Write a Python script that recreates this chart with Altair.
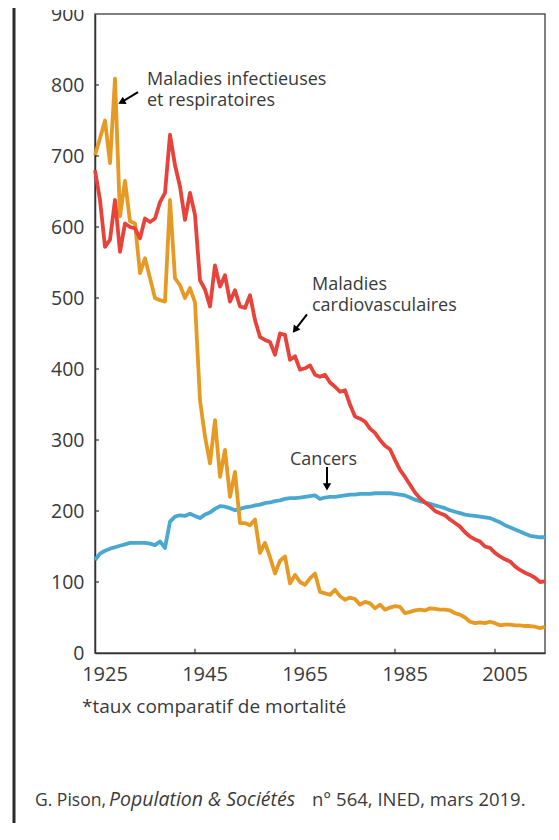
import altair as alt
import pandas as pd

years = list(range(1925, 2016))

infectieuses = [701, 725, 750, 690, 809, 615, 665, 608, 605, 535,
                556, 528, 500, 497, 495, 638, 528, 518, 500, 514,
                494, 356, 305, 267, 328, 248, 286, 220, 255, 183,
                183, 180, 188, 141, 155, 135, 112, 130, 136, 98,
                110, 100, 96, 105, 112, 86, 84, 82, 89, 80,
                75, 78, 76, 68, 72, 70, 63, 68, 61, 64,
                66, 65, 56, 58, 60, 61, 60, 63, 62, 61,
                61, 60, 56, 54, 50, 44, 42, 43, 42, 44,
                42, 39, 40, 40, 39, 39, 38, 38, 37, 35, 37]

cardio = [680, 638, 572, 582, 638, 565, 605, 600, 598, 584,
          612, 607, 612, 635, 648, 730, 687, 657, 610, 648,
          617, 525, 512, 488, 546, 516, 532, 495, 511, 488,
          486, 504, 469, 445, 441, 438, 420, 450, 448, 413,
          418, 399, 401, 405, 392, 389, 392, 381, 375, 368,
          370, 350, 333, 330, 326, 316, 310, 300, 292, 287,
          272, 258, 248, 237, 226, 218, 212, 207, 200, 197,
          194, 188, 183, 178, 170, 164, 160, 157, 150, 148,
          141, 136, 132, 129, 122, 117, 113, 110, 106, 100, 101]

cancers = [131, 140, 144, 147, 149, 151, 153, 155, 155, 155,
           155, 154, 152, 157, 148, 185, 192, 194, 193, 196,
           193, 190, 195, 198, 203, 207, 206, 204, 201, 203,
           205, 206, 208, 209, 211, 212, 214, 215, 217, 218,
           218, 219, 220, 221, 222, 217, 219, 220, 220, 221,
           222, 223, 223, 224, 224, 224, 225, 225, 225, 225,
           224, 223, 222, 219, 216, 214, 212, 210, 208, 206,
           204, 201, 199, 197, 195, 194, 193, 192, 191, 190,
           187, 184, 180, 177, 174, 171, 168, 165, 164, 163, 163]

x_tick_values = [1925, 1945, 1965, 1985, 2005]
x_tick_labels = ["1925", "1945", "1965", "1985", "2005"]
y_tick_values = [0, 100, 200, 300, 400, 500, 600, 700, 800, 900]

# annotation texts (data coordinates)
ann_text = ["Maladies  infectieuses", "et respiratoires", "Maladies",
            "cardiovasculaires", "Cancers"]
ann_year = [1935.4, 1935.4, 1968.4, 1968.4, 1964.0]
ann_value = [800, 771, 511, 482, 265]

# arrows (tail -> head, data coordinates)
arr_x = [1933.6, 1967.4, 1971.4]
arr_y = [790, 477, 262]
arr_x2 = [1930.3, 1965.0, 1971.4]
arr_y2 = [776, 455, 234]
arr_angle = [243, 217, 180]

ORANGE = "#E69A24"
RED = "#E8433A"
BLUE = "#48A8CF"
TXT = "#3a3a3a"
FONT = "Open Sans"

W, H = 450, 639

df = pd.DataFrame({"year": years, "inf": infectieuses, "car": cardio, "can": cancers})
ann = pd.DataFrame({"t": ann_text, "year": ann_year, "value": ann_value})
arr = pd.DataFrame({"x": arr_x, "y": arr_y, "x2": arr_x2, "y2": arr_y2, "a": arr_angle})
xt = pd.DataFrame({"year": x_tick_values[1:], "v0": 0, "v1": 6})
yt = pd.DataFrame({"value": y_tick_values[1:-1], "x0": 1925, "x1": 1925.8})
xl = pd.DataFrame({"year": [y + 2.0 for y in x_tick_values], "lab": x_tick_labels})

xscale = alt.Scale(domain=[1925, 2015], nice=False, zero=False)
yscale = alt.Scale(domain=[0, 900], nice=False)

xaxis = alt.Axis(values=x_tick_values, title=None, grid=False, ticks=False,
                 labels=False, domainColor="#333", domainWidth=1.5)
yaxis = alt.Axis(values=y_tick_values, title=None, grid=False, ticks=False,
                 labelFontSize=19.5, labelColor=TXT, labelFont=FONT, labelPadding=11,
                 labelFlush=False, labelOverlap=False,
                 domainColor="#333", domainWidth=1.5)

base = alt.Chart(df)

def series(field, color):
    return base.mark_line(strokeWidth=3.8, strokeJoin="round", color=color).encode(
        x=alt.X("year:Q", scale=xscale, axis=xaxis),
        y=alt.Y(f"{field}:Q", scale=yscale, axis=yaxis),
    )

l_can = series("can", BLUE)
l_inf = series("inf", ORANGE)
l_car = series("car", RED)

xticks = alt.Chart(xt).mark_rule(color="#333", strokeWidth=1.2).encode(
    x=alt.X("year:Q", scale=xscale), y=alt.Y("v0:Q", scale=yscale), y2="v1:Q")
yticks = alt.Chart(yt).mark_rule(color="#333", strokeWidth=1.2).encode(
    y=alt.Y("value:Q", scale=yscale), x=alt.X("x0:Q", scale=xscale), x2="x1:Q")

xlabels = alt.Chart(xl).mark_text(align="center", baseline="alphabetic", fontSize=20,
                                  font=FONT, color=TXT).encode(
    x=alt.X("year:Q", scale=xscale), y=alt.value(H + 28), text="lab:N")

texts = alt.Chart(ann).mark_text(align="left", baseline="alphabetic", fontSize=18,
                                 font=FONT, color=TXT).encode(
    x=alt.X("year:Q", scale=xscale), y=alt.Y("value:Q", scale=yscale), text="t:N")

shafts = alt.Chart(arr).mark_rule(color="black", strokeWidth=2).encode(
    x=alt.X("x:Q", scale=xscale), y=alt.Y("y:Q", scale=yscale), x2="x2:Q", y2="y2:Q")
heads = alt.Chart(arr).mark_point(shape="triangle-up", filled=True, color="black",
                                  size=70, opacity=1).encode(
    x=alt.X("x2:Q", scale=xscale), y=alt.Y("y2:Q", scale=yscale),
    angle=alt.Angle("a:Q", scale=None))

one = pd.DataFrame({"a": [0]})
left_bar = alt.Chart(one).mark_rule(color="#2a2a2a", strokeWidth=3).encode(
    x=alt.value(-81), y=alt.value(-30), y2=alt.value(840))

top_mask = alt.Chart(one).mark_rect(color="white").encode(
    x=alt.value(-75), x2=alt.value(-6), y=alt.value(-12), y2=alt.value(-4))

foot = alt.Chart(one).mark_text(align="left", baseline="alphabetic", fontSize=19,
                                font=FONT, color=TXT).encode(
    x=alt.value(-13), y=alt.value(699), text=alt.value("*taux comparatif de mortalité"))
src1 = alt.Chart(one).mark_text(align="left", baseline="alphabetic", fontSize=17.5,
                                font=FONT, color=TXT).encode(
    x=alt.value(-60), y=alt.value(792), text=alt.value("G. Pison,"))
src2 = alt.Chart(one).mark_text(align="left", baseline="alphabetic", fontSize=19.5,
                                font=FONT, color=TXT, fontStyle="italic").encode(
    x=alt.value(14), y=alt.value(792), text=alt.value("Population & Sociétés"))
src3 = alt.Chart(one).mark_text(align="left", baseline="alphabetic", fontSize=18.5,
                                font=FONT, color=TXT).encode(
    x=alt.value(217), y=alt.value(792), text=alt.value("n° 564, INED, mars 2019."))

chart = alt.layer(
    l_can, l_inf, l_car, xticks, yticks, shafts, heads, texts, xlabels,
    left_bar, top_mask, foot, src1, src2, src3,
).properties(
    width=W, height=H,
    autosize=alt.AutoSizeParams(type="none"),
    padding={"left": 87, "top": 6, "right": 6, "bottom": 170},
    background="white",
).configure_view(
    stroke="#555", strokeWidth=1.5
)

chart.save("out.html", embed_options={"renderer": "svg", "actions": False})
